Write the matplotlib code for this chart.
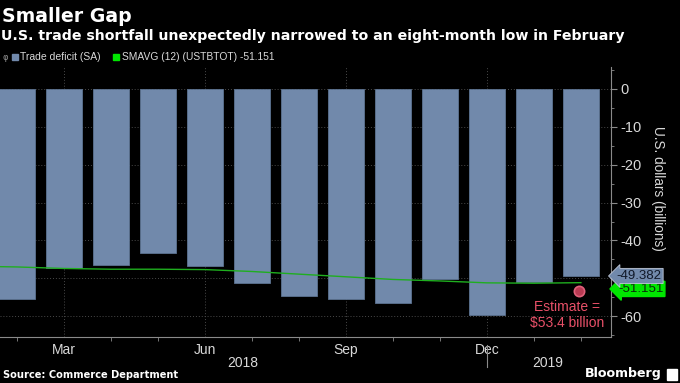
import numpy as np
import matplotlib
matplotlib.use("Agg")
import matplotlib.pyplot as plt
from matplotlib.patches import Rectangle

# monthly trade balance, Feb 2018 .. Feb 2019 (USD bn)
months = ["Feb", "Mar", "Apr", "May", "Jun", "Jul", "Aug", "Sep", "Oct", "Nov", "Dec", "Jan", "Feb"]
deficit = [-55.5, -47.3, -46.4, -43.4, -46.7, -51.3, -54.8, -55.5, -56.4, -50.3, -59.8, -51.1, -49.382]
# 12-month simple moving average (starts one month before the first bar)
sma_x = [-1, 0, 1, 2, 3, 4, 5, 6, 7, 8, 9, 10, 11, 12]
sma = [-46.8, -47.0, -47.4, -47.6, -47.6, -47.7, -48.2, -48.9, -49.6, -50.3, -50.7, -51.2, -51.3, -51.151]
estimate = -53.4
labeled = {1: "Mar", 4: "Jun", 7: "Sep", 10: "Dec"}
years = [("2018", 4.8), ("2019", 11.3)]
yticks = [0, -10, -20, -30, -40, -50, -60]

BG = "#000000"
BAR = "#7189ab"
GREEN = "#00e600"
TXT = "#d9d9d9"
RED = "#e85068"
NARROW = ["Liberation Sans", "DejaVu Sans"]

W, H = 680, 383
fig = plt.figure(figsize=(W / 100, H / 100), dpi=100, facecolor=BG)


def fx(px):
    return px / W


def fy(py):
    return 1 - py / H


# axes box in pixels: left 0, right 611, top 67, bottom 337
ax = fig.add_axes([0, fy(337), fx(611), (337 - 67) / H], facecolor=BG)
x = np.arange(len(deficit))
ax.bar(x, deficit, width=0.78, color=BAR, edgecolor="#5d7391", linewidth=0.6, zorder=2)
ax.plot(sma_x, sma, color="#1fae1f", lw=1.0, zorder=3)
ax.scatter([11.95], [estimate], s=55, facecolor="#b83a52", edgecolor="#e0607a", lw=1.2, zorder=4)

ax.set_xlim(-0.36, 12.64)
ax.set_ylim(-65.5, 5.8)

for yv in yticks:
    ax.axhline(yv, color="#4a4a4a", lw=0.7, ls=(0, (1, 2)), zorder=1)
for xv in labeled:
    ax.axvline(xv, color="#4a4a4a", lw=0.7, ls=(0, (1, 2)), zorder=1)

for s in ["top", "left"]:
    ax.spines[s].set_visible(False)
ax.spines["right"].set_color("#8a8a8a")
ax.spines["bottom"].set_color("#8a8a8a")

ax.yaxis.tick_right()
ax.set_yticks(yticks)
ax.set_yticklabels([str(v) for v in yticks], family=NARROW)
ax.set_yticks(np.arange(-65, 6, 5), minor=True)
ax.tick_params(axis="y", which="major", colors="#8a8a8a", labelcolor=TXT, labelsize=10.5, length=4, pad=3)
ax.tick_params(axis="y", which="minor", colors="#8a8a8a", length=2)

ax.set_xticks(list(labeled.keys()))
ax.set_xticklabels(list(labeled.values()), family=NARROW)
ax.set_xticks(x, minor=True)
ax.tick_params(axis="x", which="major", colors="#8a8a8a", labelcolor=TXT, labelsize=10, length=0, pad=4)
ax.tick_params(axis="x", which="minor", colors="#8a8a8a", length=3)

# year labels and separator
for yr, xv in years:
    ax.text(xv, -0.095, yr, transform=ax.get_xaxis_transform(), ha="center", va="center",
            color=TXT, fontsize=10, family=NARROW, clip_on=False)
ax.plot([10, 10], [-0.03, -0.11], transform=ax.get_xaxis_transform(), color="#8a8a8a",
        lw=0.8, clip_on=False)

ax.text(11.7, -57.7, "Estimate =", color=RED, fontsize=10, ha="center", va="center", family=NARROW)
ax.text(11.7, -61.7, "$53.4 billion", color=RED, fontsize=10, ha="center", va="center", family=NARROW)

# last-value tags on the right axis (the SMA tag sits mostly behind the bar tag)
ax.annotate("-51.151", xy=(1.0, sma[-1]), xycoords=("axes fraction", "data"),
            xytext=(5, -4.5), textcoords="offset points", ha="left", va="center",
            fontsize=9.5, family=NARROW, color="#0a2a0a",
            bbox=dict(boxstyle="larrow,pad=0.12", fc=GREEN, ec=GREEN), annotation_clip=False)
ax.annotate("-49.382", xy=(1.0, deficit[-1]), xycoords=("axes fraction", "data"),
            xytext=(4, 0), textcoords="offset points", ha="left", va="center",
            fontsize=9.5, family=NARROW, color="#101828",
            bbox=dict(boxstyle="larrow,pad=0.12", fc=BAR, ec="#c0c8d8", lw=0.6), annotation_clip=False)

fig.text(fx(658), fy(188), "U.S. dollars (billions)", rotation=270, ha="center", va="center",
         color=TXT, fontsize=9.8, family=NARROW)

# titles
fig.text(fx(2), fy(17), "Smaller Gap", color="white", fontsize=13.6, weight="bold", va="center")
fig.text(fx(1), fy(36), "U.S. trade shortfall unexpectedly narrowed to an eight-month low in February",
         color="white", fontsize=10.2, weight="bold", va="center")

# legend row
fig.patches.append(Rectangle((fx(12), fy(60)), fx(6), 6 / H, color=BAR, transform=fig.transFigure))
fig.text(fx(5), fy(57), "\u03c6", color="#909090", fontsize=6, va="center", ha="center")
fig.text(fx(20), fy(57), "Trade deficit (SA)", color=TXT, fontsize=7.5, va="center", family=NARROW)
fig.patches.append(Rectangle((fx(113), fy(60)), fx(6), 6 / H, color=GREEN, transform=fig.transFigure))
fig.text(fx(122), fy(57), "SMAVG (12) (USTBTOT) -51.151", color=TXT, fontsize=7.4, va="center", family=NARROW)

# footer
fig.text(fx(3), fy(375), "Source: Commerce Department", color="white", fontsize=7.1, weight="bold", va="center")
fig.text(fx(662), fy(374), "Bloomberg", color="white", fontsize=9.1, weight="bold", va="center", ha="right")
fig.patches.append(Rectangle((fx(667), fy(380)), fx(10), 11 / H, color="white", transform=fig.transFigure))

fig.savefig("out.png", dpi=100, facecolor=BG)
